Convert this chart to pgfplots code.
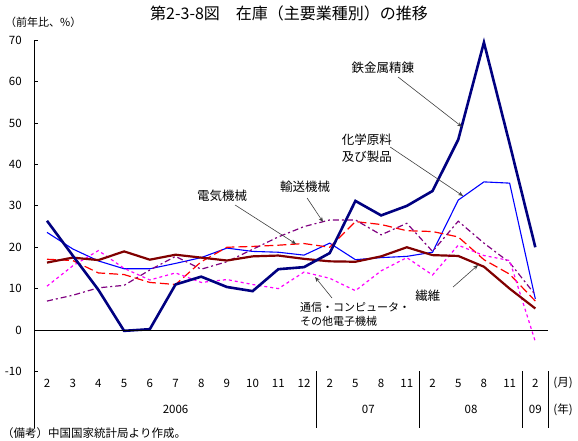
\documentclass[border=0pt]{standalone}
\usepackage{fontspec}
\setmainfont{Noto Sans CJK JP}
\usepackage{pgfplots}
\pgfplotsset{compat=1.18}
\usetikzlibrary{arrows.meta}
\definecolor{navyc}{RGB}{0,0,128}
\definecolor{bluec}{RGB}{0,0,255}
\definecolor{redc}{RGB}{255,0,0}
\definecolor{purplec}{RGB}{128,0,128}
\definecolor{magc}{RGB}{255,0,255}
\definecolor{maroonc}{RGB}{128,0,0}
\newcommand\fs[2]{\fontsize{#1}{#2}\selectfont}
\begin{document}
\begin{tikzpicture}
\begin{axis}[
  scale only axis, width=514bp, height=331bp,
  xmin=-0.5, xmax=19.5, ymin=-10, ymax=70,
  axis lines*=left,
  x axis line style={draw=none},
  y axis line style={line width=0.8bp},
  xtick={0,...,19},
  xticklabels={2,3,4,5,6,7,8,9,10,11,12,2,5,8,11,2,5,8,11,2},
  xtick style={draw=none},
  ytick={-10,0,...,70},
  tick align=inside,
  major tick length=4bp,
  ytick style={black, line width=0.8bp},
  ticklabel style={font=\fs{11.5bp}{13bp}},
  xticklabel style={anchor=center, yshift=-12bp},
  yticklabel style={xshift=-9bp},
  /pgf/number format/assume math mode=true,
  clip=false,
]
% 化学原料及び製品
\addplot[bluec, line width=1.1bp] coordinates {(0,23.6)(1,19.6)(2,16.7)(3,14.8)(4,14.8)(5,16.1)(6,17.5)(7,19.8)(8,19.0)(9,18.8)(10,18.1)(11,21.0)(12,17.0)(13,17.5)(14,17.8)(15,18.8)(16,31.4)(17,35.8)(18,35.5)(19,7.5)};
% 電気機械
\addplot[redc, line width=1.2bp, dash pattern=on 9bp off 4bp] coordinates {(0,17.1)(1,16.8)(2,13.8)(3,13.4)(4,11.5)(5,11.0)(6,16.5)(7,20.0)(8,20.2)(9,20.5)(10,20.9)(11,20.0)(12,26.2)(13,25.5)(14,24.0)(15,23.8)(16,22.5)(17,17.0)(18,13.5)(19,7.0)};
% 輸送機械
\addplot[purplec, line width=1.2bp, dash pattern=on 6bp off 3bp on 2bp off 3bp] coordinates {(0,7.0)(1,8.4)(2,10.2)(3,10.8)(4,14.5)(5,17.8)(6,14.7)(7,16.5)(8,19.5)(9,22.5)(10,25.0)(11,26.6)(12,26.6)(13,23.0)(14,25.8)(15,19.0)(16,26.3)(17,21.0)(18,16.3)(19,8.5)};
% 通信・コンピュータ・その他電子機械
\addplot[magc, line width=1.2bp, dash pattern=on 3bp off 3bp] coordinates {(0,10.6)(1,15.5)(2,19.2)(3,14.9)(4,12.1)(5,13.8)(6,11.5)(7,12.2)(8,11.0)(9,10.0)(10,14.0)(11,12.5)(12,9.5)(13,14.3)(14,17.5)(15,13.3)(16,20.5)(17,18.0)(18,16.8)(19,-2.8)};
% 繊維
\addplot[maroonc, line width=2.2bp] coordinates {(0,16.3)(1,17.5)(2,16.9)(3,19.0)(4,17.0)(5,18.2)(6,17.5)(7,16.8)(8,17.8)(9,18.0)(10,17.2)(11,16.6)(12,16.5)(13,17.8)(14,20.0)(15,18.1)(16,17.9)(17,15.3)(18,10.0)(19,5.2)};
% 鉄金属精錬
\addplot[navyc, line width=2.6bp] coordinates {(0,26.4)(1,18.0)(2,9.7)(3,-0.2)(4,0.2)(5,11.0)(6,12.9)(7,10.4)(8,9.4)(9,14.7)(10,15.2)(11,18.6)(12,31.2)(13,27.7)(14,30.0)(15,33.6)(16,46.0)(17,69.5)(18,45.0)(19,20.0)};

% axis decorations
\draw[line width=0.8bp] (axis cs:-0.5,0) -- (axis cs:19.5,0);
\draw[line width=0.8bp] (axis cs:-0.5,-10) -- (axis cs:-0.5,-23.7);
\draw[line width=0.8bp] (axis cs:10.5,-10) -- (axis cs:10.5,-23.7);
\draw[line width=0.8bp] (axis cs:14.5,-10) -- (axis cs:14.5,-23.7);
\draw[line width=0.8bp] (axis cs:18.5,-10) -- (axis cs:18.5,-23.7);
\draw[line width=0.8bp] (axis cs:19.5,-10) -- (axis cs:19.5,-23.7);

\node[font=\fs{11.5bp}{13bp}] at (axis cs:5,-19.3) {2006};
\node[font=\fs{11.5bp}{13bp}] at (axis cs:12.5,-19.3) {07};
\node[font=\fs{11.5bp}{13bp}] at (axis cs:16.5,-19.3) {08};
\node[font=\fs{11.5bp}{13bp}] at (axis cs:19,-19.3) {09};
\node[font=\fs{11.5bp}{13bp}] at (axis cs:20.08,-12.8) {(月)};
\node[font=\fs{11.5bp}{13bp}] at (axis cs:20.08,-19.3) {(年)};

% titles
\node[font=\fs{16bp}{18bp}] at (axis cs:9.42,76.6) {第2-3-8図　在庫（主要業種別）の推移};
\node[font=\fs{11bp}{13bp}, anchor=west, inner sep=0pt] at (axis cs:-1.634,74.4) {（前年比、\%）};
\node[font=\fs{11.5bp}{13bp}, anchor=west, inner sep=0pt] at (axis cs:-1.75,-24.9) {（備考）中国国家統計局より作成。};

% annotations
\node[font=\fs{12.5bp}{14bp}] at (axis cs:13.07,63.3) {鉄金属精錬};
\node[font=\fs{12.5bp}{17bp}, align=center] at (axis cs:12.45,44) {化学原料\\及び製品};
\node[font=\fs{12.5bp}{14bp}] at (axis cs:6.81,32.4) {電気機械};
\node[font=\fs{12.5bp}{14bp}] at (axis cs:10.04,34.6) {輸送機械};
\node[font=\fs{11bp}{14bp}, align=left, anchor=west, inner sep=0pt] at (axis cs:9.84,3.87) {通信・コンピュータ・\\その他電子機械};
\node[font=\fs{12.5bp}{14bp}] at (axis cs:14.82,8.2) {繊維};

\tikzset{ann/.style={-{Stealth[length=5bp,width=4bp]}, line width=0.6bp, black!75}}
\draw[ann] (axis cs:13.66,61.15) -- (axis cs:16.15,49.1);
\draw[ann] (axis cs:13.35,44.23) -- (axis cs:16.19,32.39);
\draw[ann] (axis cs:7.32,30.21) -- (axis cs:9.69,20.79);
\draw[ann] (axis cs:10.12,31.9) -- (axis cs:10.74,26.1);
\draw[ann] (axis cs:11.09,7.73) -- (axis cs:10.43,12.81);
\draw[ann] (axis cs:15.80,10.39) -- (axis cs:16.77,15.71);

\coordinate (bl) at (axis cs:-1.829,-26.59);
\coordinate (tr) at (axis cs:20.66,79.76);
\end{axis}
\pgfresetboundingbox
\useasboundingbox (bl) rectangle (tr);
\end{tikzpicture}
\end{document}
